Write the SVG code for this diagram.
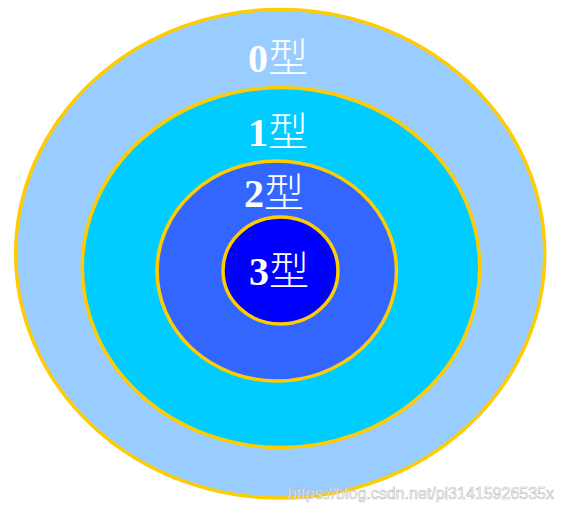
<svg xmlns="http://www.w3.org/2000/svg" width="563" height="512" viewBox="0 0 563 512">
<style>
.ring{stroke:#FFCC00;stroke-width:3.5}
.lbl{font-family:"Liberation Serif","Noto Sans CJK SC",serif;font-size:40px;fill:#fff}
.num{font-weight:bold}
.cjk{font-family:"Noto Sans CJK SC","Liberation Serif",sans-serif;font-weight:300}
.wm{font-family:"Liberation Sans",Arial,sans-serif;font-size:16px;fill:#fff;stroke:#b8b8b8;stroke-width:0.6;opacity:0.9}
</style>
<rect width="563" height="512" fill="#fff"/>
<g id="type0">
<ellipse class="ring" cx="280.2" cy="253.7" rx="264.5" ry="244.3" fill="#99CCFF"/>
<text class="lbl" x="248" y="72"><tspan class="num">0</tspan><tspan class="cjk">型</tspan></text>
</g>
<g id="type1">
<ellipse class="ring" cx="281" cy="267.6" rx="198.7" ry="180" fill="#00CCFF"/>
<text class="lbl" x="248" y="146"><tspan class="num">1</tspan><tspan class="cjk">型</tspan></text>
</g>
<g id="type2">
<ellipse class="ring" cx="276.8" cy="271" rx="119.7" ry="110" fill="#3366FF"/>
<text class="lbl" x="244" y="207"><tspan class="num">2</tspan><tspan class="cjk">型</tspan></text>
</g>
<g id="type3">
<ellipse class="ring" cx="280.5" cy="270.5" rx="57.5" ry="53.5" fill="#0000FF"/>
<text class="lbl" x="249" y="285"><tspan class="num">3</tspan><tspan class="cjk">型</tspan></text>
</g>
<g id="connectors"/>
<text class="wm" x="288" y="499">https://blog.csdn.net/pi31415926535x</text>
</svg>
